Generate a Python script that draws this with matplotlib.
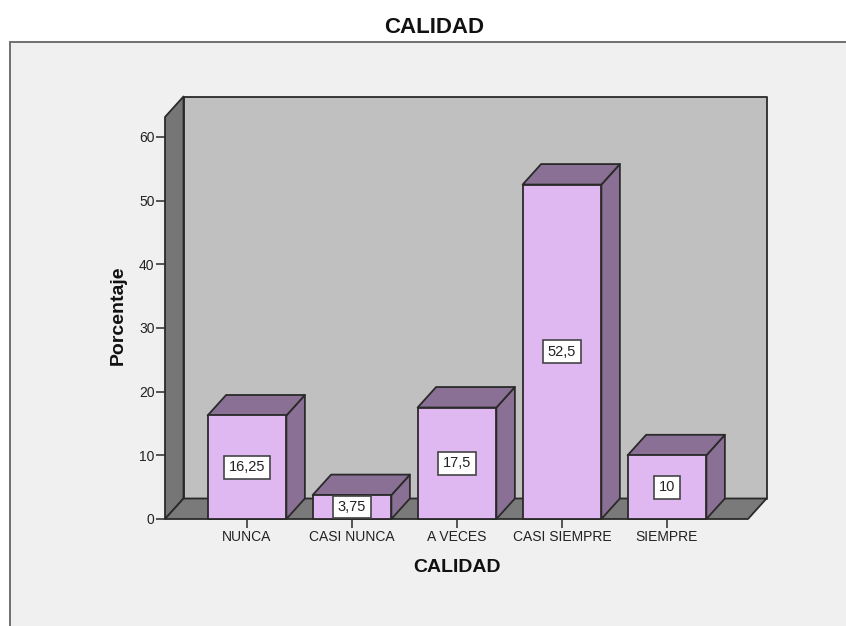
import matplotlib
matplotlib.use("Agg")
import matplotlib.pyplot as plt
from matplotlib.patches import Polygon, Rectangle

categories = ["NUNCA", "CASI NUNCA", "A VECES", "CASI SIEMPRE", "SIEMPRE"]
percentages = [16.25, 3.75, 17.5, 52.5, 10]
value_labels = ["16,25", "3,75", "17,5", "52,5", "10"]
y_ticks = [0, 10, 20, 30, 40, 50, 60]

W, H = 846, 626
EDGE = "#2a2a2a"
FRONT = "#dfb8f2"
SHADE = "#8a7095"
FONT = ["Liberation Sans", "DejaVu Sans"]

plt.rcParams["font.family"] = FONT

fig = plt.figure(figsize=(W / 100, H / 100), dpi=100, facecolor="white")

# grey chart panel, open towards the right and the bottom
fig.add_artist(Rectangle((9.5 / W, -0.01), (W + 20) / W, (H - 42) / H + 0.01,
                         transform=fig.transFigure, fc="#f0f0f0", ec="#707070", lw=1.4, zorder=-1))
fig.text(434 / W, 1 - 27.5 / H, "CALIDAD", ha="center", va="center",
         fontsize=16, fontweight="bold", color="#111111")

# axes box = front plane of the 3D frame
left, right, top, bottom = 165, 748, 117, 519
ax = fig.add_axes([left / W, 1 - bottom / H, (right - left) / W, (bottom - top) / H])
ax.patch.set_visible(False)
px_x = 105.0  # pixels per category
px_y = 6.37  # pixels per percentage point
ax.set_xlim((left - 247) / px_x, (right - 247) / px_x)
ax.set_ylim(0, (bottom - top) / px_y)
xmin, xmax = ax.get_xlim()
ymax = ax.get_ylim()[1]

# depth offset of the extrusion, in data units
dx = 18.5 / px_x
dy = 20.5 / px_y


def face(points, color, z):
    ax.add_patch(Polygon(points, closed=True, fc=color, ec=EDGE, lw=1.3,
                         joinstyle="round", clip_on=False, zorder=z))


# back wall, left wall and floor
face([(xmin + dx, dy), (xmax + dx, dy), (xmax + dx, ymax + dy), (xmin + dx, ymax + dy)], "#c0c0c0", 1)
face([(xmin, 0), (xmin + dx, dy), (xmin + dx, ymax + dy), (xmin, ymax)], "#767676", 2)
face([(xmin, 0), (xmax, 0), (xmax + dx, dy), (xmin + dx, dy)], "#7a7a7a", 2)

bar_w = 0.75
for i, (v, lab) in enumerate(zip(percentages, value_labels)):
    x0, x1 = i - bar_w / 2, i + bar_w / 2
    z = 3 + i
    face([(x1, 0), (x1 + dx, dy), (x1 + dx, v + dy), (x1, v)], SHADE, z)
    face([(x0, v), (x1, v), (x1 + dx, v + dy), (x0 + dx, v + dy)], SHADE, z)
    face([(x0, 0), (x1, 0), (x1, v), (x0, v)], FRONT, z)
    ax.text(i, v / 2, lab, ha="center", va="center", fontsize=10.5, color="#222222", zorder=20,
            bbox=dict(boxstyle="square,pad=0.3", fc="white", ec="#444444", lw=1.2))

for s in ax.spines.values():
    s.set_visible(False)

ax.set_yticks(y_ticks)
ax.set_xticks(range(len(categories)), categories)
ax.tick_params(axis="both", length=6.5, width=1.1, color=EDGE, labelcolor="#222222", labelsize=10, pad=1.5)
ax.tick_params(axis="y", labelsize=10, pad=1)
ax.set_xlabel("CALIDAD", fontsize=14, fontweight="bold", color="#111111", labelpad=11)
ax.set_ylabel("Porcentaje", fontsize=14, fontweight="bold", color="#111111", labelpad=9, y=0.507)

fig.savefig("out.png", dpi=100, facecolor="white")
